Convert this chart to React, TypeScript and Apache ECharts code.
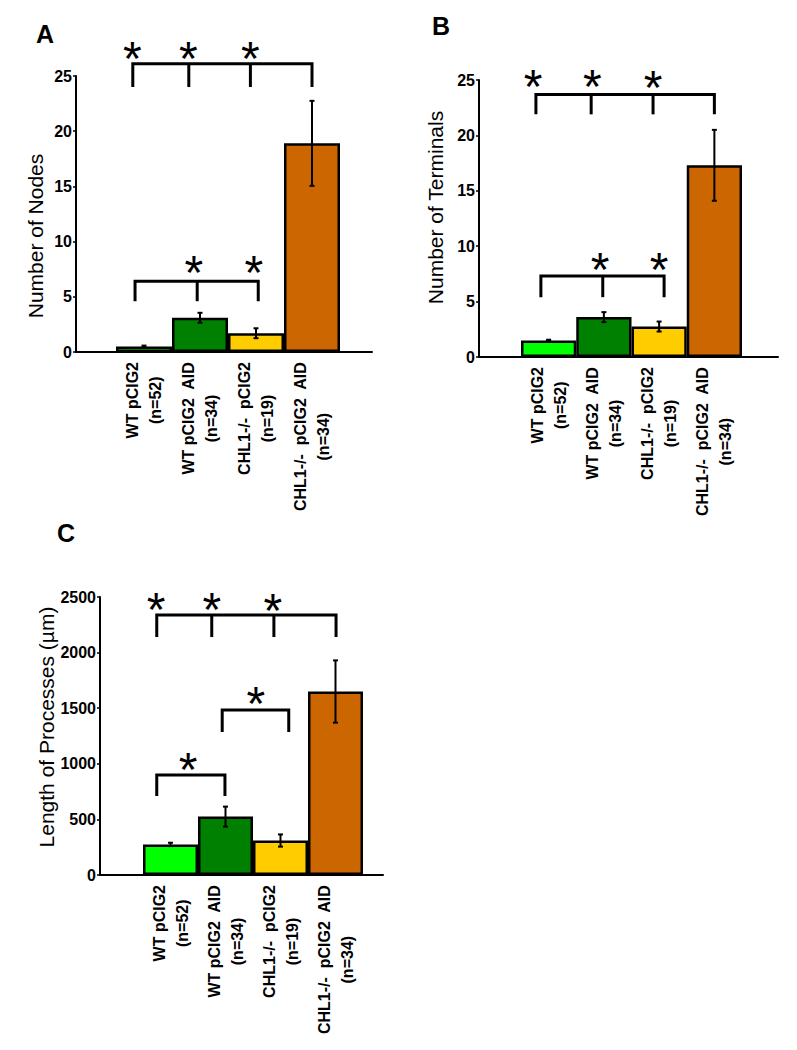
import React, { useEffect, useRef } from "react";
import * as echarts from "echarts";

// ---------- data ----------
const categories = ["WT pCIG2", "WT pCIG2  AID", "CHL1-/-  pCIG2", "CHL1-/-  pCIG2  AID"];
const sampleSizes = ["(n=52)", "(n=34)", "(n=19)", "(n=34)"];
const barColors = ["#00FF00", "#008000", "#FFCC00", "#CC6600"];

const nodesMean = [0.5, 3.1, 1.7, 18.9];
const nodesErr = [0.08, 0.45, 0.45, 3.85];
const terminalsMean = [1.5, 3.6, 2.75, 17.3];
const terminalsErr = [0.06, 0.45, 0.45, 3.2];
const lengthMean = [275, 525, 310, 1650];
const lengthErr = [15, 90, 55, 280];

// brackets: level = horizontal line value, foot = tick bottom value, ticks = category positions
const nodesBrackets = [
  { level: 26.1, foot: 24.0, ticks: [-0.2, 0.8, 1.9, 3.0] },
  { level: 6.4, foot: 4.6, ticks: [-0.16, 0.95, 2.04] },
];
const nodesStars = [
  { pos: -0.21, y: 27.6 },
  { pos: 0.79, y: 27.6 },
  { pos: 1.9, y: 27.6 },
  { pos: 0.89, y: 8.2 },
  { pos: 1.96, y: 8.2 },
];
const terminalsBrackets = [
  { level: 23.7, foot: 21.9, ticks: [-0.23, 0.77, 1.89, 3.0] },
  { level: 7.3, foot: 5.4, ticks: [-0.14, 0.98, 2.09] },
];
const terminalsStars = [
  { pos: -0.28, y: 25.45 },
  { pos: 0.79, y: 25.45 },
  { pos: 1.89, y: 25.3 },
  { pos: 0.93, y: 8.9 },
  { pos: 2.0, y: 8.9 },
];
const lengthBrackets = [
  { level: 2338, foot: 2140, ticks: [-0.25, 0.75, 1.88, 3.01] },
  { level: 1484, foot: 1286, ticks: [0.94, 2.15] },
  { level: 900, foot: 710, ticks: [-0.25, 0.99] },
];
const lengthStars = [
  { pos: -0.26, y: 2490 },
  { pos: 0.75, y: 2490 },
  { pos: 1.86, y: 2480 },
  { pos: 1.55, y: 1637 },
  { pos: 0.32, y: 1052 },
];

const FONT = "'Liberation Sans', Arial, Helvetica, sans-serif";

type Panel = {
  letter: string;
  letterX: number;
  letterY: number;
  yName: string;
  nameGap: number;
  namePad: number[];
  max: number;
  interval: number;
  axisX: number;
  barsLeft: number;
  barsWidth: number;
  axisEnd: number;
  top: number;
  height: number;
  mean: number[];
  err: number[];
  brackets: { level: number; foot: number; ticks: number[] }[];
  stars: { pos: number; y: number }[];
};

const panels: Panel[] = [
  {
    letter: "A", letterX: 36, letterY: 21,
    yName: "Number of Nodes", nameGap: 30, namePad: [0, 44, 0, 0],
    max: 25, interval: 5,
    axisX: 76, barsLeft: 116, barsWidth: 224, axisEnd: 372, top: 76, height: 276,
    mean: nodesMean, err: nodesErr, brackets: nodesBrackets, stars: nodesStars,
  },
  {
    letter: "B", letterX: 432, letterY: 13,
    yName: "Number of Terminals", nameGap: 33, namePad: [0, 0, 0, 22],
    max: 25, interval: 5,
    axisX: 479, barsLeft: 521, barsWidth: 221, axisEnd: 778, top: 80, height: 277,
    mean: terminalsMean, err: terminalsErr, brackets: terminalsBrackets, stars: terminalsStars,
  },
  {
    letter: "C", letterX: 57, letterY: 520,
    yName: "Length of Processes (\u00b5m)", nameGap: 42, namePad: [0, 0, 0, 18],
    max: 2500, interval: 500,
    axisX: 100, barsLeft: 143, barsWidth: 220, axisEnd: 383, top: 597, height: 278,
    mean: lengthMean, err: lengthErr, brackets: lengthBrackets, stars: lengthStars,
  },
];

function buildOption() {
  const grid: any[] = [];
  const xAxis: any[] = [];
  const yAxis: any[] = [];
  const series: any[] = [];
  const graphic: any[] = [];

  panels.forEach((p, pi) => {
    const frameIdx = pi * 2;
    const barsIdx = pi * 2 + 1;
    grid.push({ left: p.axisX, top: p.top, width: p.axisEnd - p.axisX, height: p.height, containLabel: false });
    grid.push({ left: p.barsLeft, top: p.top, width: p.barsWidth, height: p.height, containLabel: false });

    // frame axes
    xAxis.push({
      gridIndex: frameIdx, type: "value", min: 0, max: 1,
      axisLine: { show: true, onZero: false, lineStyle: { color: "#000", width: 2 } },
      axisTick: { show: false }, axisLabel: { show: false }, splitLine: { show: false },
    });
    yAxis.push({
      gridIndex: frameIdx, type: "value", min: 0, max: p.max, interval: p.interval,
      axisLine: { show: true, lineStyle: { color: "#000", width: 2 } },
      axisTick: { show: true, length: 3, lineStyle: { color: "#000", width: 1.5 } },
      axisLabel: {
        show: true, color: "#000", fontFamily: FONT, fontWeight: "bold", fontSize: 16, margin: 4,
        formatter: (v: number) => String(v),
      },
      splitLine: { show: false },
      name: p.yName, nameLocation: "middle", nameRotate: 90, nameGap: p.nameGap,
      nameTextStyle: { color: "#000", fontFamily: FONT, fontSize: 21, padding: p.namePad },
    });

    // bars axes
    xAxis.push({
      gridIndex: barsIdx, type: "category", data: categories,
      axisLine: { show: false }, axisTick: { show: false }, splitLine: { show: false },
      axisLabel: {
        show: true, interval: 0, rotate: 90, margin: 10,
        formatter: (_v: string, i: number) => `{a|${categories[i]}}\n{a|${sampleSizes[i]}}`,
        rich: { a: { align: "center", fontFamily: FONT, fontWeight: "bold", fontSize: 16, lineHeight: 23, color: "#000" } },
      },
    });
    yAxis.push({ gridIndex: barsIdx, type: "value", min: 0, max: p.max, show: false });

    series.push({
      type: "bar", xAxisIndex: barsIdx, yAxisIndex: barsIdx, barCategoryGap: "0%",
      data: p.mean.map((v, i) => ({ value: v, itemStyle: { color: barColors[i] } })),
      itemStyle: { borderColor: "#000", borderWidth: 2.5 },
      z: 2,
    });

    series.push({
      type: "custom", xAxisIndex: barsIdx, yAxisIndex: barsIdx, clip: false, z: 4,
      data: p.mean.map((v, i) => [i, v - p.err[i], v + p.err[i]]),
      renderItem: (_params: any, api: any) => {
        const lo = api.coord([api.value(0), api.value(1)]);
        const hi = api.coord([api.value(0), api.value(2)]);
        const c = 2.5;
        const st = { stroke: "#000", lineWidth: 2 };
        return {
          type: "group",
          children: [
            { type: "line", shape: { x1: lo[0], y1: lo[1], x2: hi[0], y2: hi[1] }, style: st },
            { type: "line", shape: { x1: lo[0] - c, y1: lo[1], x2: lo[0] + c, y2: lo[1] }, style: st },
            { type: "line", shape: { x1: hi[0] - c, y1: hi[1], x2: hi[0] + c, y2: hi[1] }, style: st },
          ],
        };
      },
    });

    series.push({
      type: "custom", xAxisIndex: barsIdx, yAxisIndex: barsIdx, clip: false, z: 5,
      data: p.brackets.map((b) => [0, b.level, b.foot]),
      renderItem: (params: any, api: any) => {
        const b = p.brackets[params.dataIndex];
        const base = api.coord([0, b.level]);
        const footY = api.coord([0, b.foot])[1];
        const w = api.size([1, 0])[0];
        const xs = b.ticks.map((t) => base[0] + t * w);
        const st = { stroke: "#000", lineWidth: 3, fill: null, lineJoin: "miter", lineCap: "butt" };
        const children: any[] = [
          {
            type: "polyline",
            shape: { points: [[xs[0], footY], [xs[0], base[1]], [xs[xs.length - 1], base[1]], [xs[xs.length - 1], footY]] },
            style: st,
          },
        ];
        for (let k = 1; k < xs.length - 1; k++) {
          children.push({ type: "line", shape: { x1: xs[k], y1: base[1], x2: xs[k], y2: footY }, style: st });
        }
        return { type: "group", children };
      },
    });

    series.push({
      type: "custom", xAxisIndex: barsIdx, yAxisIndex: barsIdx, clip: false, z: 5,
      data: p.stars.map((s) => [0, s.y]),
      renderItem: (params: any, api: any) => {
        const s = p.stars[params.dataIndex];
        const base = api.coord([0, s.y]);
        const w = api.size([1, 0])[0];
        return {
          type: "text",
          x: base[0] + s.pos * w,
          y: base[1] + 11,
          style: { text: "*", fontSize: 48, fontFamily: FONT, fill: "#000", align: "center", verticalAlign: "middle" },
        };
      },
    });

    graphic.push({
      type: "text", left: p.letterX, top: p.letterY,
      style: { text: p.letter, fontSize: 25, fontWeight: "bold", fontFamily: FONT, fill: "#000" },
    });
  });

  return { animation: false, backgroundColor: "#fff", grid, xAxis, yAxis, series, graphic };
}

export default function App() {
  const ref = useRef<HTMLDivElement>(null);
  useEffect(() => {
    if (!ref.current) return;
    const chart = echarts.init(ref.current, undefined, { renderer: "svg" });
    chart.setOption(buildOption() as any);
    return () => chart.dispose();
  }, []);
  return <div ref={ref} style={{ position: "absolute", left: 0, top: 0, width: 797, height: 1050, background: "#fff" }} />;
}
